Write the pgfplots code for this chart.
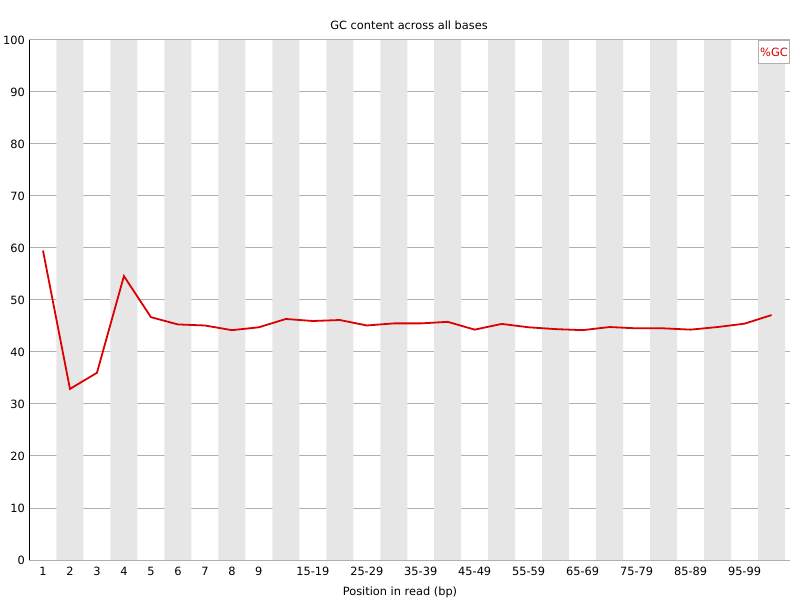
\documentclass[border=0pt]{standalone}
\usepackage{pgfplots}
\pgfplotsset{compat=1.18}
\usepackage{fontspec}
\setmainfont{DejaVu Sans}
\definecolor{gcred}{RGB}{220,0,0}
\definecolor{stripe}{RGB}{230,230,230}
\definecolor{gridc}{RGB}{176,176,176}
\begin{document}
\fontsize{11.4}{13}\selectfont
\begin{tikzpicture}
\begin{axis}[
  scale only axis,
  width=760.5bp, height=520bp,
  xmin=0.5, xmax=28.685,
  ymin=0, ymax=100,
  axis line style={draw=none},
  major tick length=0pt,
  ytick={0,10,...,100},
  xtick={1,2,3,4,5,6,7,8,9,11,13,15,17,19,21,23,25,27},
  xticklabels={1,2,3,4,5,6,7,8,9,15-19,25-29,35-39,45-49,55-59,65-69,75-79,85-89,95-99},
  ymajorgrids,
  major grid style={gridc, line width=1bp},
  yticklabel style={anchor=east, inner sep=0pt, xshift=-4.5bp, font=\fontsize{11.4}{13}\selectfont},
  xticklabel style={anchor=north, inner sep=0pt, yshift=-7bp, font=\fontsize{11.4}{13}\selectfont},
  /pgf/number format/assume math mode=true,
  axis on top=false,
  clip=false,
]
\addplot[ybar interval, fill=stripe, draw=none] coordinates {
(0.5,0) (1.5,100) (2.5,0) (3.5,100) (4.5,0) (5.5,100) (6.5,0) (7.5,100) (8.5,0) (9.5,100)
(10.5,0) (11.5,100) (12.5,0) (13.5,100) (14.5,0) (15.5,100) (16.5,0) (17.5,100) (18.5,0) (19.5,100)
(20.5,0) (21.5,100) (22.5,0) (23.5,100) (24.5,0) (25.5,100) (26.5,0) (27.5,100) (28.5,0)
};
\draw[gridc, line width=1bp] (rel axis cs:0,0) -- (rel axis cs:1,0);
\draw[gridc, line width=1bp] (rel axis cs:0,1) -- (rel axis cs:1,1);
\addplot[gcred, line width=1.8bp, mark=none] coordinates {
(1,59.5) (2,32.9) (3,36.0) (4,54.6) (5,46.7) (6,45.3) (7,45.1) (8,44.2) (9,44.75)
(10,46.35) (11,45.96) (12,46.15) (13,45.1) (14,45.5) (15,45.5) (16,45.8) (17,44.3)
(18,45.4) (19,44.75) (20,44.4) (21,44.2) (22,44.8) (23,44.55) (24,44.55) (25,44.3)
(26,44.8) (27,45.45) (28,47.1)
};
\draw[black, line width=1.2bp] (rel axis cs:0,0) -- (rel axis cs:0,1);
\node[anchor=north east, draw=gridc, line width=1bp, fill=white, text=gcred,
      minimum width=31bp, minimum height=23bp, inner sep=0pt]
  at (rel axis cs:1,1) {\%GC};
\end{axis}
\node[anchor=base] at (379.5bp,530bp) {GC content across all bases};
\node[anchor=base] at (370.5bp,-35.5bp) {Position in read (bp)};
\pgfresetboundingbox
\useasboundingbox (-29.5bp,-40bp) rectangle (770.5bp,560bp);
\end{tikzpicture}
\end{document}
